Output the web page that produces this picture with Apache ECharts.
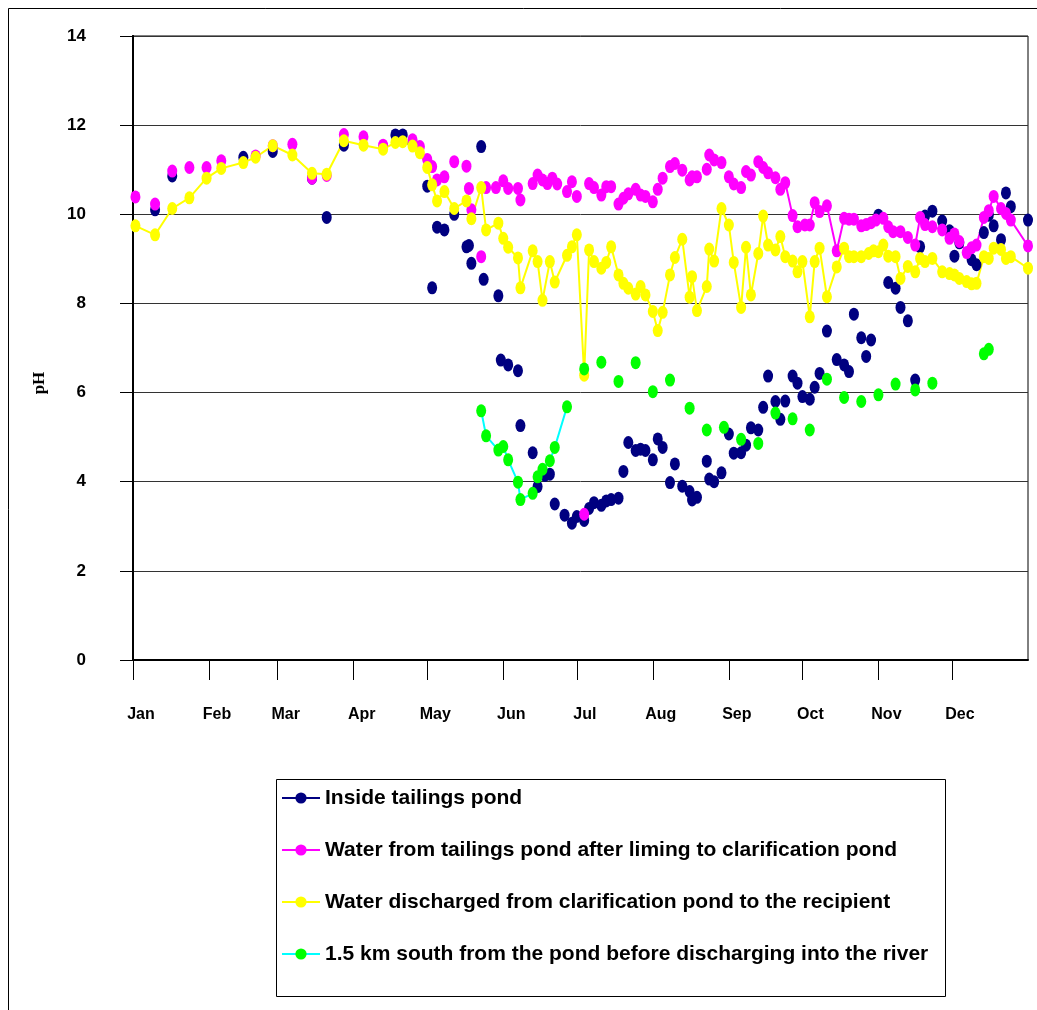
<!DOCTYPE html>
<html>
<head>
<meta charset="utf-8">
<script src="https://cdn.jsdelivr.net/npm/echarts@6/dist/echarts.min.js"></script>
<style>
  html, body { margin: 0; padding: 0; background: #fff; }
  #phChart { width: 1037px; height: 1010px; }
</style>
</head>
<body>
<div id="phChart"></div>
<script>
// x = day of the year (0 = 1 Jan), y = pH
const monthNames = ['Jan', 'Feb', 'Mar', 'Apr', 'May', 'Jun', 'Jul', 'Aug', 'Sep', 'Oct', 'Nov', 'Dec']
const monthStarts = [0, 31, 59, 90, 120, 151, 181, 212, 243, 273, 304, 334]
const yTicks = [0, 2, 4, 6, 8, 10, 12, 14]

const seriesNames = [
  'Inside tailings pond',
  'Water from tailings pond after liming to clarification pond',
  'Water discharged from clarification pond to the recipient',
  '1.5 km south from the pond before discharging into the river'
]

// inside tailings pond (single readings, not joined)
const insidePond = [
  [9, 10.1], [16, 10.86], [45, 11.28], [57, 11.41], [73, 10.81], [79, 9.93], [86, 11.55],
  [107, 11.78], [110, 11.78], [114, 11.6], [120, 10.63], [122, 8.35], [124, 9.71], [127, 9.65],
  [131, 10.0], [136, 9.27], [137, 9.3], [138, 8.9], [142, 11.52], [143, 8.54], [149, 8.17],
  [150, 6.73], [153, 6.62], [157, 6.49], [158, 5.26], [163, 4.65], [165, 3.89], [168, 4.14],
  [170, 4.17], [172, 3.5], [176, 3.25], [179, 3.07], [181, 3.22], [184, 3.13], [186, 3.4],
  [188, 3.53], [191, 3.47], [193, 3.57], [195, 3.6], [198, 3.63], [200, 4.23], [202, 4.88],
  [205, 4.7], [207, 4.73], [209, 4.7], [212, 4.49], [214, 4.96], [216, 4.77], [219, 3.98],
  [221, 4.4], [224, 3.9], [227, 3.78], [228, 3.59], [230, 3.65], [234, 4.46], [235, 4.06],
  [237, 4.0], [240, 4.2], [243, 5.07], [245, 4.64], [248, 4.65], [250, 4.82], [252, 5.21],
  [255, 5.16], [257, 5.67], [259, 6.37], [262, 5.8], [264, 5.4], [266, 5.81], [269, 6.37],
  [271, 6.21], [273, 5.91], [276, 5.85], [278, 6.12], [280, 6.43], [283, 7.38], [287, 6.74],
  [290, 6.62], [292, 6.47], [294, 7.76], [297, 7.23], [299, 6.81], [301, 7.18], [304, 9.98],
  [308, 8.47], [311, 8.34], [313, 7.91], [316, 7.61], [319, 6.28], [321, 9.27], [323, 9.96],
  [326, 10.07], [330, 9.85], [333, 9.63], [335, 9.06], [337, 9.36], [342, 8.98], [344, 8.87],
  [347, 9.59], [349, 9.98], [351, 9.74], [354, 9.43], [356, 10.48], [358, 10.17], [365, 9.87]
]

// after liming: loose readings first, then a joined run from late September
const limedDots = [
  [1, 10.39], [9, 10.23], [16, 10.97], [23, 11.05], [30, 11.05], [36, 11.2], [50, 11.31],
  [57, 11.54], [65, 11.57], [73, 10.81], [79, 10.87], [86, 11.79], [94, 11.74], [102, 11.55],
  [114, 11.67], [117, 11.52], [120, 11.23], [122, 11.07], [124, 10.77], [127, 10.84],
  [131, 11.18], [136, 11.08], [137, 10.58], [138, 10.1], [142, 9.05], [144, 10.6], [148, 10.6],
  [151, 10.75], [153, 10.58], [157, 10.58], [158, 10.32], [163, 10.69], [165, 10.88],
  [167, 10.77], [169, 10.69], [171, 10.81], [173, 10.68], [177, 10.51], [179, 10.73],
  [181, 10.4], [184, 3.27], [186, 10.69], [188, 10.6], [191, 10.43], [193, 10.62], [195, 10.62],
  [198, 10.23], [200, 10.36], [202, 10.46], [205, 10.56], [207, 10.43], [209, 10.4],
  [212, 10.28], [214, 10.56], [216, 10.81], [219, 11.07], [221, 11.14], [224, 10.99],
  [227, 10.77], [228, 10.84], [230, 10.84], [234, 11.01], [235, 11.33], [237, 11.22],
  [240, 11.16], [243, 10.84], [245, 10.68], [248, 10.6], [250, 10.96], [252, 10.88],
  [255, 11.18], [257, 11.05], [259, 10.93], [262, 10.82]
]
const limedLine = [
  [264, 10.56], [266, 10.71], [269, 9.97], [271, 9.72], [274, 9.76], [276, 9.76], [278, 10.26],
  [280, 10.06], [283, 10.19], [287, 9.18], [290, 9.91], [292, 9.89], [294, 9.89], [297, 9.74],
  [299, 9.77], [301, 9.81], [303, 9.87], [306, 9.91], [308, 9.72], [310, 9.61], [313, 9.61],
  [316, 9.48], [319, 9.31], [321, 9.93], [323, 9.77], [326, 9.72], [330, 9.65], [333, 9.46],
  [335, 9.56], [337, 9.39], [340, 9.14], [342, 9.25], [344, 9.31], [347, 9.93], [349, 10.08],
  [351, 10.4], [354, 10.13], [356, 10.02], [358, 9.87], [365, 9.29]
]

// discharged to the recipient (joined all year)
const discharged = [
  [1, 9.74], [9, 9.54], [16, 10.13], [23, 10.37], [30, 10.81], [36, 11.03], [45, 11.16],
  [50, 11.28], [57, 11.54], [65, 11.33], [73, 10.92], [79, 10.9], [86, 11.65], [94, 11.55],
  [102, 11.46], [107, 11.61], [110, 11.63], [114, 11.53], [117, 11.38], [120, 11.05],
  [122, 10.66], [124, 10.3], [127, 10.51], [131, 10.13], [136, 10.3], [138, 9.9], [142, 10.6],
  [144, 9.65], [149, 9.8], [151, 9.46], [153, 9.26], [157, 9.02], [158, 8.35], [163, 9.18],
  [165, 8.94], [167, 8.07], [170, 8.94], [172, 8.48], [177, 9.08], [179, 9.27], [181, 9.54],
  [184, 6.39], [186, 9.2], [188, 8.94], [191, 8.79], [193, 8.92], [195, 9.27], [198, 8.64],
  [200, 8.45], [202, 8.34], [205, 8.21], [207, 8.38], [209, 8.19], [212, 7.82], [214, 7.39],
  [216, 7.8], [219, 8.64], [221, 9.03], [224, 9.44], [227, 8.14], [228, 8.6], [230, 7.84],
  [234, 8.38], [235, 9.22], [237, 8.95], [240, 10.13], [243, 9.76], [245, 8.92], [248, 7.91],
  [250, 9.26], [252, 8.19], [255, 9.12], [257, 9.96], [259, 9.31], [262, 9.2], [264, 9.5],
  [266, 9.05], [269, 8.95], [271, 8.71], [273, 8.94], [276, 7.7], [278, 8.94], [280, 9.24],
  [283, 8.15], [287, 8.82], [290, 9.24], [292, 9.05], [294, 9.05], [297, 9.05], [300, 9.12],
  [302, 9.18], [304, 9.16], [306, 9.31], [308, 9.06], [311, 9.05], [313, 8.56], [316, 8.83],
  [319, 8.71], [321, 9.01], [323, 8.94], [326, 9.01], [330, 8.71], [333, 8.67], [335, 8.64],
  [337, 8.56], [340, 8.49], [342, 8.44], [344, 8.45], [347, 9.05], [349, 9.01], [351, 9.24],
  [354, 9.21], [356, 9.01], [358, 9.05], [365, 8.79]
]

// 1.5 km south: joined run in June, loose readings after
const riverLine = [
  [142, 5.59], [144, 5.03], [149, 4.71], [151, 4.79], [153, 4.49], [157, 3.99], [158, 3.6],
  [163, 3.74], [165, 4.11], [167, 4.28], [170, 4.47], [172, 4.77], [177, 5.68]
]
const riverDots = [
  [184, 6.53], [191, 6.68], [198, 6.25], [205, 6.67], [212, 6.02], [219, 6.28], [227, 5.65],
  [234, 5.16], [241, 5.22], [248, 4.95], [255, 4.86], [262, 5.54], [269, 5.41], [276, 5.16],
  [283, 6.3], [290, 5.89], [297, 5.8], [304, 5.95], [311, 6.19], [319, 6.06], [326, 6.21],
  [347, 6.87], [349, 6.97]
]

const NAVY = '#000080'
const MAGENTA = '#ff00ff'
const YELLOW = '#ffff00'
const GREEN = '#00ff00'
const CYAN = '#00ffff'
const FONT = 'Arial, "Liberation Sans", sans-serif'

const markSize = [10, 13]

function makeSeries(name, data, dotColor, lineColor, joined) {
  return {
    name,
    type: 'line',
    data,
    symbol: 'circle',
    symbolSize: markSize,
    showAllSymbol: true,
    itemStyle: { color: dotColor },
    lineStyle: { color: lineColor, width: 2, opacity: joined ? 1 : 0 },
    emphasis: { disabled: true },
    animation: false
  }
}

const legend = {
  orient: 'vertical',
  left: 276,
  top: 781,
  itemWidth: 38,
  itemHeight: 14,
  itemGap: 28,
  selectedMode: false,
  textStyle: { fontFamily: FONT, fontWeight: 'bold', fontSize: 21, color: '#000', lineHeight: 24 },
  data: [
    { name: seriesNames[0], lineStyle: { color: NAVY, width: 2, opacity: 1 } },
    { name: seriesNames[1] },
    { name: seriesNames[2] },
    { name: seriesNames[3] }
  ]
}

const xAxis = {
  type: 'value',
  min: 0,
  max: 365,
  splitLine: { show: false },
  axisLine: { onZero: false, lineStyle: { color: '#000', width: 2 } },
  axisTick: {
    customValues: monthStarts,
    length: 20,
    lineStyle: { color: '#000', width: 1 }
  },
  axisLabel: {
    customValues: monthStarts,
    margin: 47,
    fontFamily: FONT,
    fontWeight: 'bold',
    fontSize: 16,
    color: '#000',
    padding: [0, 0, 0, 16],
    formatter: v => monthNames[monthStarts.indexOf(v)]
  }
}

const yAxis = [
  {
    type: 'value',
    min: 0,
    max: 14,
    interval: 2,
    axisLine: { show: true, onZero: false, lineStyle: { color: '#000', width: 2 } },
    axisTick: { show: true, length: 13, lineStyle: { color: '#000' } },
    splitLine: { show: true, lineStyle: { color: '#333', width: 1 } },
    axisLabel: {
      margin: 47,
      fontFamily: FONT,
      fontWeight: 'bold',
      fontSize: 17,
      color: '#000',
      padding: [0, 0, 13, 0],
      formatter: v => (yTicks.indexOf(v) >= 0 ? String(v) : '')
    }
  },
  {
    type: 'value',
    position: 'right',
    min: 0,
    max: 14,
    interval: 2,
    axisLine: { show: true, lineStyle: { color: '#000', width: 2 } },
    axisTick: { show: false },
    axisLabel: { show: false },
    splitLine: { show: false }
  }
]

const series = [
  makeSeries(seriesNames[0], insidePond, NAVY, NAVY, false),
  makeSeries(seriesNames[1], limedLine, MAGENTA, MAGENTA, true),
  makeSeries(seriesNames[1], limedDots, MAGENTA, MAGENTA, false),
  makeSeries(seriesNames[2], discharged, YELLOW, YELLOW, true),
  makeSeries(seriesNames[3], riverLine, GREEN, CYAN, true),
  makeSeries(seriesNames[3], riverDots, GREEN, CYAN, false)
]

const myChart = echarts.init(document.getElementById('phChart'), null, { renderer: 'canvas' })
myChart.setOption({
  animation: false,
  backgroundColor: '#fff',
  grid: {
    left: 133,
    right: 9,
    top: 36,
    bottom: 350,
    show: true,
    borderColor: '#000',
    borderWidth: 1
  },
  legend,
  xAxis,
  yAxis,
  series,
  graphic: [
    {
      type: 'rect',
      silent: true,
      shape: { x: 8.5, y: 8.5, width: 1100, height: 1100 },
      style: { fill: null, stroke: '#000', lineWidth: 1 }
    },
    {
      type: 'rect',
      silent: true,
      shape: { x: 276.5, y: 779.5, width: 669, height: 217 },
      style: { fill: null, stroke: '#000', lineWidth: 1 }
    },
    {
      type: 'text',
      silent: true,
      x: 40,
      y: 383,
      rotation: Math.PI / 2,
      style: {
        text: 'pH',
        font: 'bold 17px "Liberation Serif", "Times New Roman", serif',
        fill: '#000',
        align: 'center',
        verticalAlign: 'middle'
      }
    }
  ]
})
</script>
</body>
</html>
